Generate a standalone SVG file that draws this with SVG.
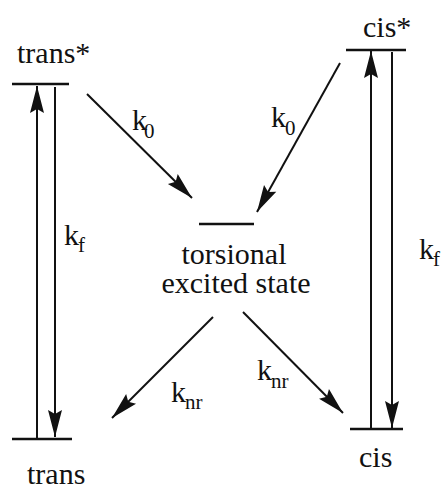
<svg xmlns="http://www.w3.org/2000/svg" width="445" height="489" viewBox="0 0 445 489">
<style>
.bar{stroke:#111;stroke-width:2.5;fill:none}
.arr{stroke:#111;stroke-width:2;fill:none;marker-end:url(#ah)}
.lb{font-size:30px;font-family:"Liberation Serif","Times New Roman",serif;fill:#111}
.sub{font-size:21px;font-family:"Liberation Serif","Times New Roman",serif;fill:#111}
</style>
<defs>
<marker id="ah" markerUnits="userSpaceOnUse" markerWidth="30" markerHeight="16" viewBox="-27 -8 28 16" refX="0" refY="0" orient="auto">
<path d="M0,0 L-27,-7 L-23,0 L-27,7 Z" fill="#111"/>
</marker>
</defs>
<rect width="445" height="489" fill="#fff"/>
<g id="trans-star">
<line class="bar" x1="12" y1="84" x2="69" y2="84"/>
<text class="lb" x="17" y="63">trans*</text>
</g>
<g id="trans">
<line class="bar" x1="12" y1="439" x2="72" y2="439"/>
<text class="lb" x="27" y="484">trans</text>
</g>
<g id="cis-star">
<line class="bar" x1="346" y1="50" x2="406" y2="50"/>
<text class="lb" x="363" y="37">cis*</text>
</g>
<g id="cis">
<line class="bar" x1="350" y1="429" x2="403" y2="429"/>
<text class="lb" x="359" y="467">cis</text>
</g>
<g id="torsional">
<line class="bar" x1="199" y1="224" x2="254" y2="224"/>
<text class="lb" x="234" y="264" text-anchor="middle">torsional</text>
<text class="lb" x="236" y="293" text-anchor="middle">excited state</text>
</g>
<g id="connectors">
<line class="arr" x1="37" y1="439" x2="37" y2="86"/>
<line class="arr" x1="55" y1="87" x2="55" y2="437"/>
<line class="arr" x1="371" y1="429" x2="371" y2="51"/>
<line class="arr" x1="392" y1="52" x2="392" y2="428"/>
<line class="arr" x1="87" y1="94" x2="192" y2="198"/>
<line class="arr" x1="340" y1="63" x2="257" y2="212"/>
<line class="arr" x1="213" y1="317" x2="112" y2="418"/>
<line class="arr" x1="243" y1="312" x2="343" y2="413"/>
</g>
<g id="labels">
<text class="lb" x="132" y="130">k</text><text class="sub" x="144" y="138">0</text>
<text class="lb" x="271" y="127">k</text><text class="sub" x="285" y="135">0</text>
<text class="lb" x="64" y="245">k</text><text class="sub" x="78" y="252">f</text>
<text class="lb" x="419" y="259">k</text><text class="sub" x="433" y="266">f</text>
<text class="lb" x="171" y="402">k</text><text class="sub" x="185" y="409">nr</text>
<text class="lb" x="257" y="380">k</text><text class="sub" x="271" y="388">nr</text>
</g>
</svg>
